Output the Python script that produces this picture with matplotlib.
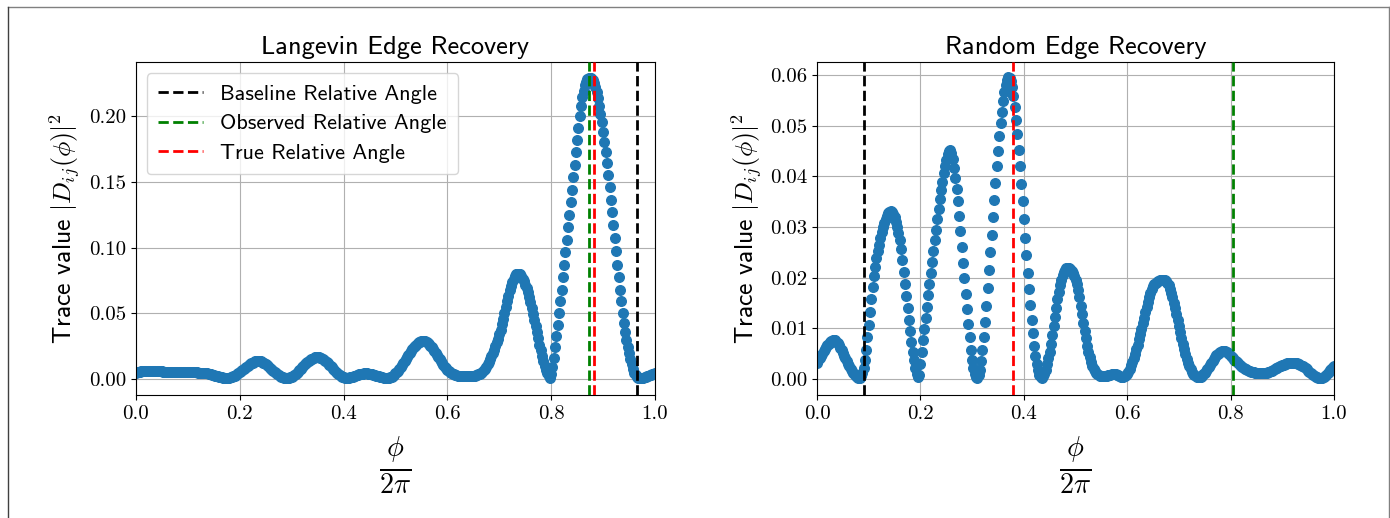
import numpy as np
import matplotlib
matplotlib.use("Agg")
import matplotlib.pyplot as plt
from matplotlib.lines import Line2D

# trace values, phi/2pi from 0 to 1 in steps of 0.0025
langevin_trace = [
    0.0048, 0.0051, 0.0054, 0.0056, 0.0058, 0.0060, 0.0061, 0.0062, 0.0063, 0.0063, 0.0063, 0.0063, 0.0062, 0.0061, 0.0060, 0.0059, 0.0058, 0.0058, 0.0057, 0.0057,
    0.0057, 0.0056, 0.0056, 0.0056, 0.0056, 0.0056, 0.0056, 0.0055, 0.0055, 0.0055, 0.0055, 0.0055, 0.0055, 0.0055, 0.0055, 0.0055, 0.0055, 0.0055, 0.0055, 0.0055,
    0.0055, 0.0055, 0.0054, 0.0054, 0.0053, 0.0052, 0.0051, 0.0050, 0.0049, 0.0048, 0.0047, 0.0046, 0.0045, 0.0044, 0.0043, 0.0042, 0.0040, 0.0038, 0.0035, 0.0032,
    0.0029, 0.0026, 0.0023, 0.0020, 0.0017, 0.0014, 0.0011, 0.0009, 0.0007, 0.0006, 0.0006, 0.0007, 0.0009, 0.0012, 0.0015, 0.0019, 0.0024, 0.0030, 0.0037, 0.0044,
    0.0051, 0.0059, 0.0067, 0.0075, 0.0083, 0.0091, 0.0099, 0.0106, 0.0113, 0.0119, 0.0125, 0.0130, 0.0134, 0.0136, 0.0137, 0.0136, 0.0134, 0.0130, 0.0125, 0.0119,
    0.0112, 0.0104, 0.0096, 0.0087, 0.0078, 0.0069, 0.0060, 0.0051, 0.0043, 0.0035, 0.0028, 0.0022, 0.0017, 0.0013, 0.0010, 0.0008, 0.0007, 0.0007, 0.0008, 0.0011,
    0.0015, 0.0021, 0.0028, 0.0036, 0.0045, 0.0055, 0.0066, 0.0077, 0.0088, 0.0099, 0.0110, 0.0120, 0.0129, 0.0137, 0.0144, 0.0150, 0.0155, 0.0160, 0.0164, 0.0166,
    0.0167, 0.0166, 0.0163, 0.0159, 0.0153, 0.0146, 0.0138, 0.0129, 0.0119, 0.0109, 0.0099, 0.0088, 0.0077, 0.0066, 0.0056, 0.0046, 0.0037, 0.0029, 0.0022, 0.0016,
    0.0012, 0.0009, 0.0008, 0.0008, 0.0010, 0.0012, 0.0015, 0.0018, 0.0022, 0.0026, 0.0029, 0.0032, 0.0035, 0.0038, 0.0040, 0.0041, 0.0042, 0.0042, 0.0042, 0.0041,
    0.0040, 0.0038, 0.0036, 0.0033, 0.0030, 0.0026, 0.0022, 0.0019, 0.0016, 0.0013, 0.0011, 0.0009, 0.0008, 0.0008, 0.0008, 0.0010, 0.0013, 0.0018, 0.0025, 0.0033,
    0.0042, 0.0052, 0.0064, 0.0077, 0.0091, 0.0106, 0.0121, 0.0137, 0.0152, 0.0170, 0.0186, 0.0201, 0.0215, 0.0228, 0.0240, 0.0251, 0.0261, 0.0270, 0.0278, 0.0284,
    0.0288, 0.0290, 0.0289, 0.0286, 0.0281, 0.0274, 0.0265, 0.0254, 0.0242, 0.0228, 0.0213, 0.0198, 0.0182, 0.0166, 0.0150, 0.0135, 0.0120, 0.0106, 0.0093, 0.0081,
    0.0070, 0.0061, 0.0053, 0.0046, 0.0040, 0.0035, 0.0031, 0.0028, 0.0026, 0.0024, 0.0023, 0.0022, 0.0021, 0.0020, 0.0020, 0.0020, 0.0020, 0.0020, 0.0021, 0.0022,
    0.0023, 0.0025, 0.0027, 0.0030, 0.0034, 0.0039, 0.0046, 0.0055, 0.0066, 0.0079, 0.0094, 0.0111, 0.0130, 0.0151, 0.0174, 0.0198, 0.0223, 0.0250, 0.0278, 0.0307,
    0.0340, 0.0372, 0.0415, 0.0460, 0.0505, 0.0550, 0.0593, 0.0635, 0.0674, 0.0709, 0.0739, 0.0764, 0.0783, 0.0796, 0.0802, 0.0802, 0.0796, 0.0782, 0.0763, 0.0742,
    0.0718, 0.0690, 0.0658, 0.0622, 0.0583, 0.0541, 0.0497, 0.0451, 0.0404, 0.0356, 0.0308, 0.0262, 0.0217, 0.0175, 0.0136, 0.0101, 0.0070, 0.0045, 0.0020, 0.0006,
    0.0035, 0.0090, 0.0160, 0.0240, 0.0325, 0.0412, 0.0500, 0.0590, 0.0680, 0.0775, 0.0870, 0.0965, 0.1060, 0.1155, 0.1250, 0.1345, 0.1440, 0.1535, 0.1630, 0.1725,
    0.1815, 0.1910, 0.2000, 0.2080, 0.2145, 0.2195, 0.2235, 0.2262, 0.2280, 0.2290, 0.2293, 0.2288, 0.2275, 0.2252, 0.2222, 0.2183, 0.2135, 0.2080, 0.2018, 0.1952,
    0.1880, 0.1805, 0.1725, 0.1640, 0.1550, 0.1460, 0.1365, 0.1270, 0.1170, 0.1070, 0.0970, 0.0870, 0.0775, 0.0680, 0.0590, 0.0505, 0.0425, 0.0355, 0.0295, 0.0245,
    0.0200, 0.0150, 0.0110, 0.0075, 0.0048, 0.0028, 0.0014, 0.0007, 0.0004, 0.0005, 0.0007, 0.0009, 0.0012, 0.0015, 0.0019, 0.0023, 0.0027, 0.0031, 0.0035, 0.0039,
    0.0043,
]

random_trace = [
    0.0032, 0.0037, 0.0042, 0.0046, 0.0050, 0.0055, 0.0059, 0.0063, 0.0067, 0.0070, 0.0073, 0.0075, 0.0077, 0.0077, 0.0076, 0.0074, 0.0071, 0.0067, 0.0062, 0.0057,
    0.0052, 0.0046, 0.0041, 0.0035, 0.0030, 0.0025, 0.0020, 0.0015, 0.0011, 0.0008, 0.0005, 0.0003, 0.0002, 0.0002, 0.0005, 0.0011, 0.0022, 0.0038, 0.0058, 0.0082,
    0.0107, 0.0132, 0.0157, 0.0181, 0.0203, 0.0222, 0.0238, 0.0252, 0.0265, 0.0278, 0.0290, 0.0300, 0.0309, 0.0316, 0.0322, 0.0327, 0.0330, 0.0331, 0.0329, 0.0325,
    0.0319, 0.0311, 0.0301, 0.0289, 0.0274, 0.0257, 0.0234, 0.0211, 0.0188, 0.0164, 0.0140, 0.0116, 0.0094, 0.0073, 0.0054, 0.0038, 0.0022, 0.0010, 0.0003, 0.0008,
    0.0030, 0.0053, 0.0076, 0.0099, 0.0121, 0.0143, 0.0165, 0.0187, 0.0209, 0.0231, 0.0253, 0.0274, 0.0295, 0.0316, 0.0336, 0.0355, 0.0373, 0.0390, 0.0406, 0.0420,
    0.0433, 0.0444, 0.0451, 0.0452, 0.0446, 0.0434, 0.0416, 0.0396, 0.0375, 0.0352, 0.0322, 0.0292, 0.0261, 0.0230, 0.0199, 0.0168, 0.0138, 0.0109, 0.0082, 0.0058,
    0.0037, 0.0021, 0.0010, 0.0003, 0.0002, 0.0007, 0.0018, 0.0035, 0.0057, 0.0083, 0.0112, 0.0145, 0.0180, 0.0215, 0.0250, 0.0285, 0.0320, 0.0354, 0.0388, 0.0420,
    0.0451, 0.0479, 0.0505, 0.0528, 0.0549, 0.0566, 0.0580, 0.0590, 0.0596, 0.0595, 0.0588, 0.0576, 0.0559, 0.0537, 0.0512, 0.0484, 0.0453, 0.0420, 0.0386, 0.0351,
    0.0315, 0.0279, 0.0244, 0.0210, 0.0177, 0.0146, 0.0117, 0.0090, 0.0066, 0.0046, 0.0030, 0.0017, 0.0008, 0.0003, 0.0002, 0.0006, 0.0010, 0.0018, 0.0029, 0.0041,
    0.0054, 0.0069, 0.0086, 0.0104, 0.0122, 0.0140, 0.0157, 0.0172, 0.0185, 0.0196, 0.0205, 0.0212, 0.0216, 0.0219, 0.0219, 0.0219, 0.0217, 0.0214, 0.0209, 0.0203,
    0.0196, 0.0187, 0.0175, 0.0161, 0.0145, 0.0128, 0.0111, 0.0095, 0.0080, 0.0066, 0.0054, 0.0043, 0.0034, 0.0026, 0.0020, 0.0015, 0.0011, 0.0009, 0.0007, 0.0006,
    0.0005, 0.0005, 0.0005, 0.0005, 0.0006, 0.0007, 0.0008, 0.0008, 0.0009, 0.0009, 0.0009, 0.0009, 0.0008, 0.0007, 0.0006, 0.0004, 0.0003, 0.0003, 0.0005, 0.0008,
    0.0010, 0.0014, 0.0020, 0.0027, 0.0034, 0.0042, 0.0050, 0.0059, 0.0068, 0.0078, 0.0088, 0.0099, 0.0110, 0.0121, 0.0132, 0.0143, 0.0153, 0.0162, 0.0170, 0.0177,
    0.0183, 0.0187, 0.0190, 0.0192, 0.0194, 0.0195, 0.0196, 0.0196, 0.0196, 0.0195, 0.0193, 0.0190, 0.0185, 0.0178, 0.0170, 0.0161, 0.0151, 0.0140, 0.0128, 0.0116,
    0.0104, 0.0092, 0.0080, 0.0069, 0.0059, 0.0049, 0.0040, 0.0032, 0.0025, 0.0019, 0.0014, 0.0010, 0.0007, 0.0005, 0.0004, 0.0003, 0.0003, 0.0004, 0.0006, 0.0009,
    0.0012, 0.0016, 0.0019, 0.0023, 0.0027, 0.0031, 0.0035, 0.0039, 0.0043, 0.0047, 0.0050, 0.0052, 0.0054, 0.0055, 0.0056, 0.0056, 0.0055, 0.0054, 0.0052, 0.0049,
    0.0046, 0.0043, 0.0041, 0.0038, 0.0036, 0.0033, 0.0031, 0.0028, 0.0026, 0.0024, 0.0022, 0.0020, 0.0019, 0.0017, 0.0016, 0.0015, 0.0014, 0.0013, 0.0013, 0.0012,
    0.0012, 0.0011, 0.0011, 0.0011, 0.0011, 0.0011, 0.0011, 0.0012, 0.0012, 0.0013, 0.0014, 0.0015, 0.0016, 0.0018, 0.0019, 0.0021, 0.0022, 0.0024, 0.0025, 0.0026,
    0.0027, 0.0028, 0.0029, 0.0030, 0.0031, 0.0031, 0.0032, 0.0032, 0.0032, 0.0032, 0.0032, 0.0031, 0.0030, 0.0029, 0.0028, 0.0026, 0.0025, 0.0023, 0.0021, 0.0019,
    0.0016, 0.0014, 0.0012, 0.0010, 0.0008, 0.0006, 0.0004, 0.0003, 0.0002, 0.0001, 0.0001, 0.0002, 0.0003, 0.0005, 0.0008, 0.0011, 0.0014, 0.0017, 0.0020, 0.0023,
    0.0026,
]

phase = np.linspace(0, 1, len(langevin_trace))

# relative angles (in units of 2pi): baseline, observed, true
langevin_angles = [0.966, 0.873, 0.882]
random_angles = [0.090, 0.805, 0.380]
angle_labels = ["Baseline Relative Angle", "Observed Relative Angle", "True Relative Angle"]
angle_colors = ["black", "green", "red"]

titles = ["Langevin Edge Recovery", "Random Edge Recovery"]
ylims = [(-0.0122, 0.2411), (-0.00316, 0.06257)]
yticks = [[0.0, 0.05, 0.10, 0.15, 0.20], [0.0, 0.01, 0.02, 0.03, 0.04, 0.05, 0.06]]

plt.rcParams["mathtext.fontset"] = "cm"
plt.rcParams["axes.formatter.use_mathtext"] = True
plt.rcParams["axes.unicode_minus"] = False

SANS = "cmss10"
SERIF = "cmr10"


def draw_panel(ax, trace, angles, title, ylim, ticks, legend=False):
    ax.scatter(phase, trace, s=48, color="#1f77b4", zorder=2)
    for pos, lab, col in zip(angles, angle_labels, angle_colors):
        ax.axvline(pos, color=col, linestyle="--", linewidth=2, label=lab, zorder=3)
    ax.set_xlim(0, 1)
    ax.set_ylim(*ylim)
    ax.set_yticks(ticks)
    ax.yaxis.set_major_formatter(matplotlib.ticker.FormatStrFormatter("%.2f"))
    ax.xaxis.set_major_formatter(matplotlib.ticker.FormatStrFormatter("%.1f"))
    ax.grid(True, color="#b0b0b0", linewidth=0.8)
    ax.set_axisbelow(True)
    ax.set_title(title, fontsize=19, family=SANS, pad=6)
    ax.set_xlabel(r"$\frac{\phi}{2\pi}$", fontsize=29, labelpad=8)
    ax.set_ylabel(r"Trace value $|D_{ij}(\phi)|^2$", fontsize=18.5, family=SANS)
    for lab in ax.get_xticklabels() + ax.get_yticklabels():
        lab.set_family(SERIF)
        lab.set_fontsize(15)
    if legend:
        ax.legend(loc="upper left", prop={"family": SANS, "size": 16},
                  handlelength=2.0, borderpad=0.5, labelspacing=0.45)


fig = plt.figure(figsize=(13.9, 5.18), dpi=100)
ax1 = fig.add_axes([0.0978, 0.2375, 0.3734, 0.6425])
ax2 = fig.add_axes([0.5878, 0.2375, 0.3719, 0.6425])

draw_panel(ax1, langevin_trace, langevin_angles, titles[0], ylims[0], yticks[0], legend=True)
draw_panel(ax2, random_trace, random_angles, titles[1], ylims[1], yticks[1])

# frame left over from the screenshot crop
fig.add_artist(Line2D([8 / 1390, 1389 / 1390], [1 - 7 / 518, 1 - 7 / 518], color="#808080", linewidth=1))
fig.add_artist(Line2D([8 / 1390, 8 / 1390], [0, 1 - 7 / 518], color="#404040", linewidth=1))
fig.add_artist(Line2D([1389 / 1390, 1389 / 1390], [0, 1 - 7 / 518], color="#808080", linewidth=1))

fig.savefig("out.png", dpi=100)
